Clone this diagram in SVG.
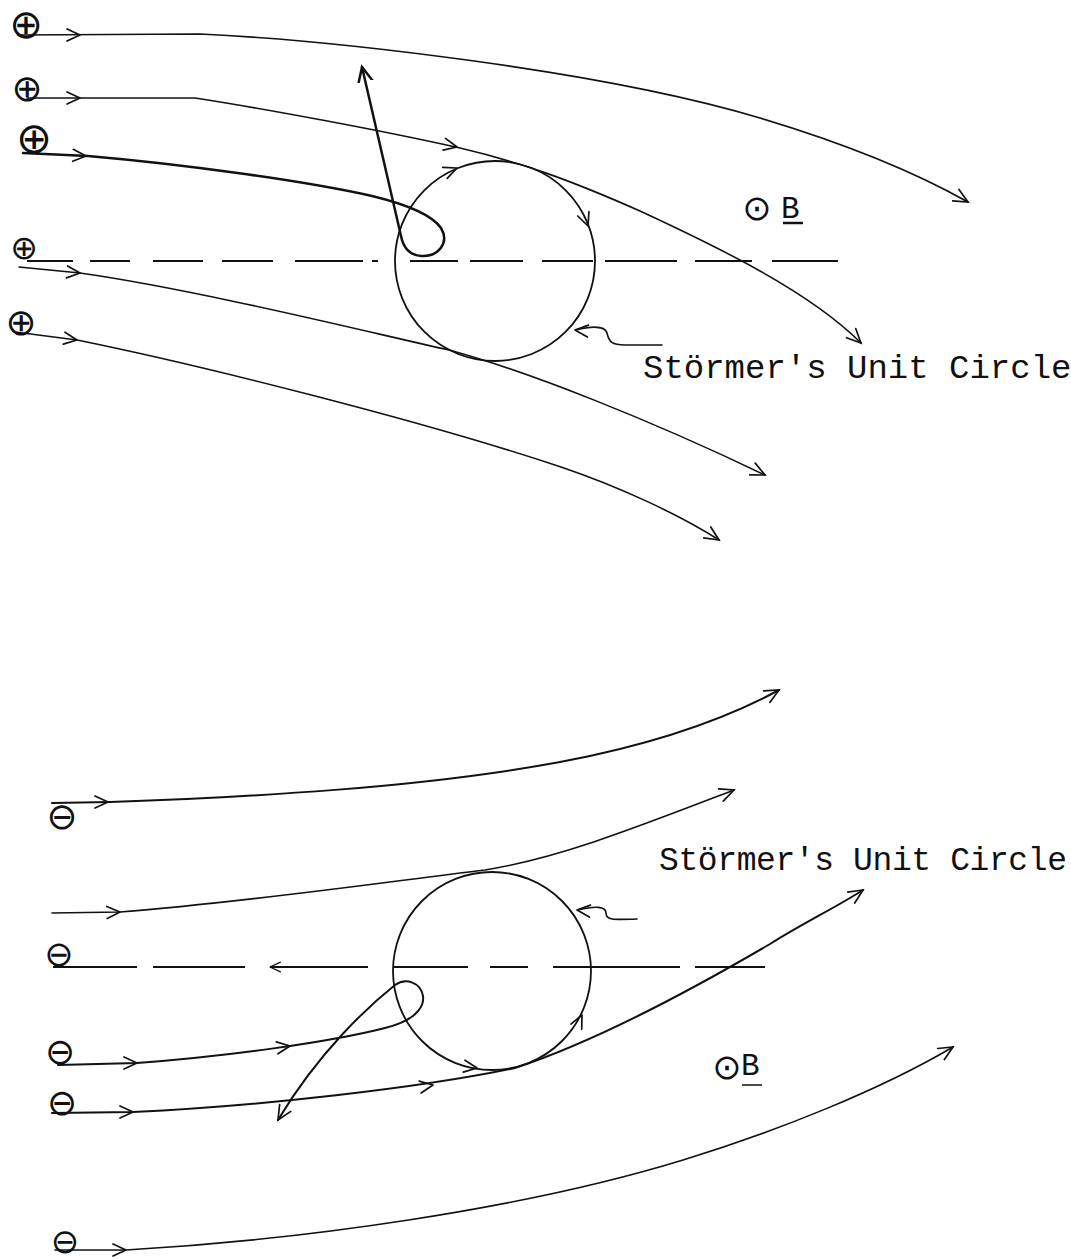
<svg xmlns="http://www.w3.org/2000/svg" xmlns:xlink="http://www.w3.org/1999/xlink" width="1071" height="1259" viewBox="0 0 1071 1259">
<style>
.ln{fill:none;stroke:#111;stroke-width:1.6;stroke-linecap:round;stroke-linejoin:round}
.bd{stroke-width:2.5}
.md{stroke-width:2}
.dash{fill:none;stroke:#111;stroke-width:2}
.circ{fill:none;stroke:#111;stroke-width:1.8}
.sym{font-family:"DejaVu Sans",sans-serif;fill:#111;text-anchor:middle}
.lbl{font-family:"Liberation Mono","DejaVu Sans Mono",monospace;font-size:34px;fill:#111}
.bl{font-family:"Liberation Mono","DejaVu Sans Mono",monospace;font-size:31px;fill:#111}
</style>
<defs>
<path id="ah" d="M-13,-6 L0,0 L-13,6" fill="none" stroke="#111" stroke-width="1.7" stroke-linecap="round" stroke-linejoin="round"/>
<marker id="end" markerUnits="userSpaceOnUse" viewBox="0 0 30 30" markerWidth="30" markerHeight="30" refX="15" refY="15" orient="auto">
<path d="M1,8.5 L15,15 L1,21.5" fill="none" stroke="#111" stroke-width="1.7" stroke-linecap="round"/>
</marker>
<marker id="endb" markerUnits="userSpaceOnUse" viewBox="0 0 30 30" markerWidth="30" markerHeight="30" refX="15" refY="15" orient="auto">
<path d="M-1,7.5 L15,15 L-1,22.5" fill="none" stroke="#111" stroke-width="2.5" stroke-linecap="round"/>
</marker>
</defs>
<rect width="1071" height="1259" fill="#fff"/>

<!-- TOP PANEL -->
<g id="axis-top">
<path class="dash" d="M27,261 H73 M90,261 H130 M153,261 H203 M222,261 H273 M295,261 H363 M372,261 H378 M410,261 H458 M470,261 H523 M542,261 H593 M605,261 H677 M695,261 H752 M772,261 H838"/>
</g>
<g id="unit-circle-top">
<circle class="circ" cx="495" cy="261" r="100"/>
<use xlink:href="#ah" transform="translate(457,168) rotate(-22)"/>
<use xlink:href="#ah" transform="translate(588,226) rotate(69)"/>
</g>
<g id="charges-top">
<text class="sym" x="26" y="38" font-size="40">⊕</text>
<text class="sym" x="27" y="101" font-size="37">⊕</text>
<text class="sym" x="34" y="153" font-size="43">⊕</text>
<text class="sym" x="24" y="259" font-size="33">⊕</text>
<text class="sym" x="21" y="335" font-size="37">⊕</text>
</g>
<g id="field-top">
<text class="sym" x="757" y="220" font-size="35">⊙</text>
<text class="bl" x="781" y="218">B</text>
<line x1="783" y1="223" x2="803" y2="223" stroke="#111" stroke-width="2.5"/>
</g>
<g id="label-top">
<text class="lbl" x="643" y="378">Störmer's Unit Circle</text>
</g>

<g id="connectors-top">
<path class="ln" marker-end="url(#end)" d="M18,35 L200,34 C330,40 600,70 760,118 C850,145 920,175 968,202"/>
<use xlink:href="#ah" transform="translate(80,35)"/>
<path class="ln" marker-end="url(#end)" d="M27,98 L195,98 C260,108 380,130 460,148 C520,162 570,180 640,211 C720,248 810,292 861,343"/>
<use xlink:href="#ah" transform="translate(80,98)"/>
<use xlink:href="#ah" transform="translate(457,147) rotate(12)"/>
<path class="ln bd" marker-end="url(#endb)" d="M23,153 L88,156 C180,164 300,180 372,196 C405,204 432,215 441,228 C450,243 438,257 421,256 C408,255 403,246 401,236 L362,67"/>
<use xlink:href="#ah" transform="translate(86,156) rotate(3)" stroke-width="2.2"/>
<path class="ln" marker-end="url(#end)" d="M19,267 L80,273 C200,290 380,335 449,350 C530,372 650,420 765,475"/>
<use xlink:href="#ah" transform="translate(80,273) rotate(5)"/>
<path class="ln" marker-end="url(#end)" d="M15,332 L77,340 C200,365 420,420 561,467 C620,487 680,515 719,540"/>
<use xlink:href="#ah" transform="translate(77,340) rotate(8)"/>
<path class="ln" d="M576,330 C592,326 605,326 607,333 C609,342 612,345 625,345 L662,345"/>
<use xlink:href="#ah" transform="translate(575,330) rotate(185)"/>
</g>

<!-- BOTTOM PANEL -->
<g id="axis-bottom">
<path class="dash" d="M53,967 H137 M153,967 H245 M270,967 H368 M393,967 H468 M490,967 H528 M553,967 H680 M695,967 H765"/>
<use xlink:href="#ah" transform="translate(270,967) rotate(180) scale(0.8)"/>
</g>
<g id="unit-circle-bottom">
<circle class="circ" cx="492" cy="971" r="99"/>
<use xlink:href="#ah" transform="translate(477,1068) rotate(8)"/>
<use xlink:href="#ah" transform="translate(582,1015) rotate(-64)"/>
</g>
<g id="charges-bottom">
<text class="sym" x="62" y="829" font-size="37">⊖</text>
<text class="sym" x="59" y="966" font-size="35">⊖</text>
<text class="sym" x="60" y="1064" font-size="36">⊖</text>
<text class="sym" x="62" y="1115" font-size="36">⊖</text>
<text class="sym" x="65" y="1253" font-size="34">⊖</text>
</g>
<g id="field-bottom">
<text class="sym" x="727" y="1079" font-size="35">⊙</text>
<text class="bl" x="741" y="1075">B</text>
<line x1="742" y1="1085" x2="762" y2="1085" stroke="#111" stroke-width="1.5"/>
</g>
<g id="label-bottom">
<text class="lbl" x="659" y="870" textLength="408" lengthAdjust="spacing" style="font-size:33px">Störmer's Unit Circle</text>
</g>

<g id="connectors-bottom">
<path class="ln md" marker-end="url(#end)" d="M52,803 L110,802 C250,797 420,788 560,762 C650,745 720,722 779,690"/>
<use xlink:href="#ah" transform="translate(108,802)"/>
<path class="ln" marker-end="url(#end)" d="M52,913 L120,912 C250,902 400,880 485,870 C560,858 640,826 734,790"/>
<use xlink:href="#ah" transform="translate(120,912) rotate(-2)"/>
<path class="ln md" marker-end="url(#end)" d="M58,1065 L137,1063 C230,1056 330,1042 385,1028 C410,1022 425,1010 423,996 C421,983 406,977 395,985 C370,1005 320,1050 278,1120"/>
<use xlink:href="#ah" transform="translate(137,1063)"/>
<use xlink:href="#ah" transform="translate(290,1046) rotate(-8)"/>
<path class="ln md" marker-end="url(#end)" d="M52,1113 L133,1112 C260,1106 420,1088 515,1068 C600,1040 700,985 770,944 C805,922 835,908 863,890"/>
<use xlink:href="#ah" transform="translate(133,1112)"/>
<use xlink:href="#ah" transform="translate(433,1085) rotate(-9)"/>
<path class="ln" marker-end="url(#end)" d="M55,1250 L126,1250 C300,1240 520,1210 683,1160 C780,1130 880,1090 953,1047"/>
<use xlink:href="#ah" transform="translate(126,1250)"/>
<path class="ln" d="M578,910 C595,906 606,906 606,913 C606,920 612,920 637,919"/>
<use xlink:href="#ah" transform="translate(577,910) rotate(185)"/>
</g>
</svg>
